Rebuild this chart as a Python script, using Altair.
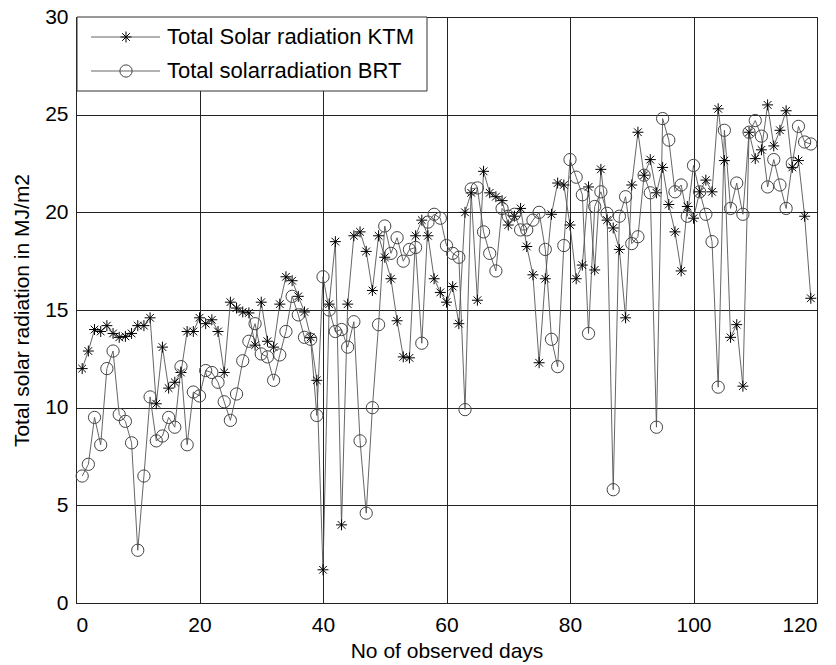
import altair as alt
import pandas as pd

days = list(range(1, 120))

ktm = [12.0, 12.9, 14.0, 13.9, 14.2, 13.8, 13.6, 13.65, 13.8, 14.2,
       14.2, 14.6, 10.2, 13.1, 11.0, 11.3, 11.8, 13.9, 13.9, 14.6,
       14.3, 14.5, 13.9, 11.8, 15.4, 15.1, 14.9, 14.85, 13.2, 15.4,
       13.4, 13.1, 15.3, 16.7, 16.5, 15.7, 14.9, 13.6, 11.4, 1.7,
       15.3, 18.5, 4.0, 15.3, 18.8, 19.0, 18.0, 16.0, 18.8, 17.7,
       16.6, 14.45, 12.6, 12.55, 18.8, 19.6, 18.8, 16.6, 15.9, 15.4,
       16.2, 14.3, 20.0, 21.0, 15.5, 22.1, 21.0, 20.8, 20.6, 19.35,
       19.8, 20.2, 18.25, 16.8, 12.3, 16.6, 19.9, 21.5, 21.4, 19.35,
       16.6, 17.3, 21.3, 17.05, 22.2, 19.6, 19.2, 18.1, 14.6, 21.4,
       24.1, 21.9, 22.7, 21.0, 22.3, 20.4, 19.0, 17.0, 20.3, 19.7,
       21.05, 21.65, 21.05, 25.3, 22.65, 13.6, 14.25, 11.1, 24.1, 22.75,
       23.2, 25.5, 23.4, 24.2, 25.2, 22.3, 22.65, 19.8, 15.6]

brt = [6.5, 7.1, 9.5, 8.1, 12.0, 12.9, 9.65, 9.3, 8.2, 2.7,
       6.5, 10.55, 8.3, 8.55, 9.5, 9.0, 12.1, 8.1, 10.8, 10.6,
       11.9, 11.8, 11.3, 10.3, 9.35, 10.7, 12.4, 13.4, 14.3, 12.75,
       12.6, 11.4, 12.7, 13.9, 15.7, 14.75, 13.6, 13.5, 9.6, 16.7,
       15.0, 13.9, 14.0, 13.1, 14.4, 8.3, 4.6, 10.0, 14.25, 19.3,
       17.9, 18.7, 17.5, 18.1, 18.2, 13.3, 19.5, 19.9, 19.7, 18.3,
       17.9, 17.7, 9.9, 21.2, 21.25, 19.0, 17.9, 17.0, 20.2, 19.8,
       19.9, 19.1, 19.1, 19.6, 20.0, 18.1, 13.5, 12.1, 18.3, 22.7,
       21.8, 20.9, 13.8, 20.3, 21.05, 19.95, 5.8, 19.8, 20.8, 18.4,
       18.75, 21.9, 21.0, 9.0, 24.8, 23.7, 21.05, 21.4, 19.8, 22.4,
       21.05, 19.9, 18.5, 11.05, 24.2, 20.2, 21.5, 19.9, 24.1, 24.7,
       23.9, 21.3, 22.7, 21.4, 20.2, 22.5, 24.4, 23.6, 23.5]

x_ticks = [0, 20, 40, 60, 80, 100, 120]
y_ticks = [0, 5, 10, 15, 20, 25, 30]
legend_labels = ["Total Solar radiation KTM", "Total solarradiation BRT"]

FONT = "Liberation Sans"
STAR = "M-1,0L1,0M0,-1L0,1M-0.7,-0.7L0.7,0.7M-0.7,0.7L0.7,-0.7"

df = pd.DataFrame({"day": days, "KTM": ktm, "BRT": brt})

xscale = alt.Scale(domain=[0, 120], nice=False, zero=False)
yscale = alt.Scale(domain=[0, 30], nice=False, zero=False)

x_axis = alt.Axis(values=x_ticks, title="No of observed days", grid=True,
                  ticks=False, labelPadding=11, titlePadding=5, format="d")
y_axis = alt.Axis(values=y_ticks, title="Total solar radiation in MJ/m2", grid=True,
                  ticks=False, labelPadding=8, titlePadding=12, format="d")

X = alt.X("day:Q", scale=xscale, axis=x_axis)

base = alt.Chart(df)

ktm_line = base.mark_line(color="#555555", strokeWidth=0.9).encode(
    x=X, y=alt.Y("KTM:Q", scale=yscale, axis=y_axis),
)
brt_line = base.mark_line(color="#555555", strokeWidth=0.9).encode(
    x=X, y=alt.Y("BRT:Q", scale=yscale, axis=y_axis),
)
ktm_pts = base.mark_point(shape=STAR, size=120, filled=False, color="black",
                          strokeWidth=1, opacity=1).encode(
    x=X, y=alt.Y("KTM:Q", scale=yscale, axis=y_axis),
)
brt_pts = base.mark_point(shape="circle", size=150, filled=False, color="#444444",
                          strokeWidth=1, opacity=1).encode(
    x=X, y=alt.Y("BRT:Q", scale=yscale, axis=y_axis),
)

# legend (drawn manually, MATLAB style)
one = pd.DataFrame({"a": [0]})
leg_box = alt.Chart(one).mark_rect(
    fill="white", stroke="#333333", strokeWidth=1
).encode(x=alt.value(1), x2=alt.value(351), y=alt.value(0), y2=alt.value(74))
leg_line1 = alt.Chart(one).mark_rule(color="#555555", strokeWidth=0.9).encode(
    x=alt.value(15), x2=alt.value(84), y=alt.value(20))
leg_line2 = alt.Chart(one).mark_rule(color="#555555", strokeWidth=0.9).encode(
    x=alt.value(15), x2=alt.value(84), y=alt.value(54))
leg_star = alt.Chart(one).mark_point(
    shape=STAR, size=120, filled=False, color="black", strokeWidth=1, opacity=1
).encode(x=alt.value(50), y=alt.value(20))
leg_circ = alt.Chart(one).mark_point(
    shape="circle", size=150, filled=False, color="#444444", strokeWidth=1, opacity=1
).encode(x=alt.value(50), y=alt.value(54))
leg_text1 = alt.Chart(pd.DataFrame({"t": [legend_labels[0]]})).mark_text(
    align="left", baseline="middle", font=FONT, fontSize=22, color="black"
).encode(x=alt.value(91), y=alt.value(20), text="t:N")
leg_text2 = alt.Chart(pd.DataFrame({"t": [legend_labels[1]]})).mark_text(
    align="left", baseline="middle", font=FONT, fontSize=22, color="black"
).encode(x=alt.value(91), y=alt.value(54), text="t:N")

chart = alt.layer(
    ktm_line, brt_line, ktm_pts, brt_pts,
    leg_box, leg_line1, leg_line2, leg_star, leg_circ, leg_text1, leg_text2,
).properties(
    width=741, height=586,
    autosize=alt.AutoSizeParams(type="none"),
    padding={"left": 76, "top": 17, "right": 19, "bottom": 62},
).configure_view(
    stroke="#222222", strokeWidth=1
).configure_axis(
    labelFont=FONT, titleFont=FONT, labelFontSize=21, titleFontSize=21,
    titleFontWeight="normal", labelColor="black", titleColor="black",
    domainColor="#222222", gridColor="#222222", gridOpacity=1, gridWidth=1,
)

chart.save("out.html", embed_options={"renderer": "svg", "actions": False})
